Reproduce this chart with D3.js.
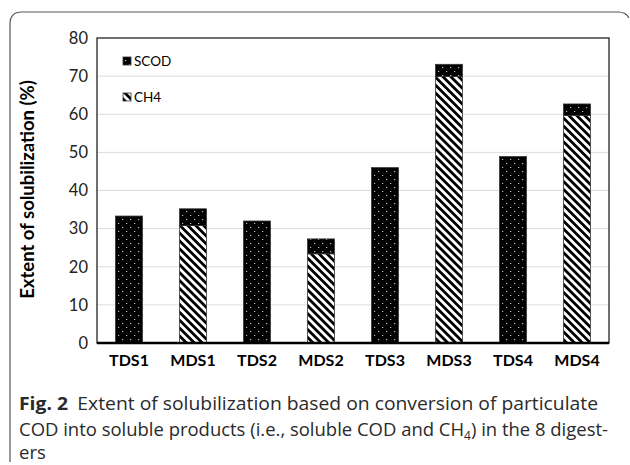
<!DOCTYPE html>
<html>
<head>
<meta charset="utf-8">
<script src="https://cdn.jsdelivr.net/npm/d3@7/dist/d3.min.js"></script>
<style>
  html, body { margin: 0; padding: 0; background: #fff; }
  svg { display: block; }
</style>
</head>
<body>
<svg id="chart" width="630" height="465"></svg>
<script>
// Digesters and their solubilization split (% of particulate COD)
const categories = ["TDS1", "MDS1", "TDS2", "MDS2", "TDS3", "MDS3", "TDS4", "MDS4"];
const ch4Values  = [0, 30.8, 0, 23.4, 0, 69.9, 0, 59.7];
const scodValues = [33.3, 4.4, 32.0, 3.9, 46.0, 3.2, 48.9, 3.0];
const yTicks = [0, 10, 20, 30, 40, 50, 60, 70, 80];
const seriesNames = ["SCOD", "CH4"];

const svg = d3.select("#chart");
const plot = { left: 97, right: 609, top: 38, bottom: 343 };

// Fill patterns: dotted black for SCOD, diagonal hatching for CH4
const defs = svg.append("defs");
const dots = defs.append("pattern")
  .attr("id", "dots").attr("patternUnits", "userSpaceOnUse")
  .attr("width", 8).attr("height", 8);
dots.append("rect").attr("width", 8).attr("height", 8).attr("fill", "#000");
dots.append("rect").attr("x", 2).attr("y", 3).attr("width", 1.2).attr("height", 1.2).attr("fill", "#bbb");
dots.append("rect").attr("x", 6).attr("y", 7).attr("width", 1.2).attr("height", 1.2).attr("fill", "#bbb");

const hatch = defs.append("pattern")
  .attr("id", "hatch").attr("patternUnits", "userSpaceOnUse")
  .attr("width", 5.6).attr("height", 5.6)
  .attr("patternTransform", "rotate(-45)");
hatch.append("rect").attr("width", 5.6).attr("height", 5.6).attr("fill", "#fff");
hatch.append("rect").attr("x", 0).attr("width", 2.8).attr("height", 5.6).attr("fill", "#000");

// Outer figure frame with rounded top corners
svg.append("path")
  .attr("d", "M10,462 L10,24 Q10,12 22,12 L618,12 Q626,12 629,18")
  .attr("fill", "none").attr("stroke", "#555").attr("stroke-width", 1.2);

const x = d3.scaleBand().domain(categories).range([plot.left, plot.right]).paddingInner(0.58).paddingOuter(0.29);
const y = d3.scaleLinear().domain([0, 80]).range([plot.bottom, plot.top]);

// Gridlines
svg.append("g").selectAll("line")
  .data(yTicks.filter(t => t > 0 && t < 80))
  .join("line")
  .attr("x1", plot.left).attr("x2", plot.right)
  .attr("y1", d => y(d)).attr("y2", d => y(d))
  .attr("stroke", "#dcdcdc").attr("stroke-width", 1);

// Plot frame
svg.append("rect")
  .attr("x", plot.left).attr("y", plot.top)
  .attr("width", plot.right - plot.left).attr("height", plot.bottom - plot.top)
  .attr("fill", "none").attr("stroke", "#222").attr("stroke-width", 1.3);

// Stacked bars: CH4 at the base, SCOD on top
const stackData = categories.map((c, i) => ({ cat: c, CH4: ch4Values[i], SCOD: scodValues[i] }));
const stacked = d3.stack().keys(["CH4", "SCOD"])(stackData);
const fills = { CH4: "url(#hatch)", SCOD: "url(#dots)" };

stacked.forEach(layer => {
  svg.append("g").selectAll("rect")
    .data(layer.filter(d => d[1] - d[0] > 0))
    .join("rect")
    .attr("x", d => x(d.data.cat))
    .attr("width", x.bandwidth())
    .attr("y", d => y(d[1]))
    .attr("height", d => y(d[0]) - y(d[1]))
    .attr("fill", fills[layer.key])
    .attr("stroke", "#333").attr("stroke-width", 0.8);
});

// Bottom axis line
svg.append("line")
  .attr("x1", plot.left).attr("x2", plot.right)
  .attr("y1", plot.bottom).attr("y2", plot.bottom)
  .attr("stroke", "#000").attr("stroke-width", 2.4);

// Y axis labels
const yAxis = svg.append("g")
  .attr("transform", `translate(${plot.left},0)`)
  .call(d3.axisLeft(y).tickValues(yTicks).tickSize(0).tickPadding(9));
yAxis.select(".domain").remove();
yAxis.selectAll("text")
  .attr("font-family", "Lato, 'Open Sans', sans-serif")
  .attr("font-size", 16.5).attr("fill", "#222");

// X axis labels
const xAxis = svg.append("g")
  .attr("transform", `translate(0,${plot.bottom})`)
  .call(d3.axisBottom(x).tickSize(0).tickPadding(12));
xAxis.select(".domain").remove();
xAxis.selectAll("text")
  .attr("font-family", "Lato, 'Open Sans', sans-serif")
  .attr("font-size", 16).attr("font-weight", "bold").attr("fill", "#000");

// Y axis title
svg.append("text")
  .attr("transform", `translate(34,${(plot.top + plot.bottom) / 2 - 1}) rotate(-90)`)
  .attr("text-anchor", "middle")
  .attr("font-family", "Lato, 'Open Sans', sans-serif")
  .attr("font-size", 18.5).attr("font-weight", "bold").attr("fill", "#000")
  .text("Extent of solubilization (%)");

// Legend
const legend = svg.append("g").selectAll("g")
  .data(seriesNames)
  .join("g")
  .attr("transform", (d, i) => `translate(123,${57 + i * 36})`);
legend.append("rect")
  .attr("width", 8).attr("height", 8)
  .attr("fill", d => fills[d]).attr("stroke", "#333").attr("stroke-width", 0.8);
legend.append("text")
  .attr("x", 11).attr("y", 4).attr("dy", "0.36em")
  .attr("font-family", "Lato, 'Open Sans', sans-serif")
  .attr("font-size", 13.5).attr("fill", "#000")
  .text(d => d);

// Figure caption
const cap = svg.append("g")
  .attr("font-family", "'Open Sans', 'Noto Sans', sans-serif")
  .attr("font-size", 18.5).attr("fill", "#2a2a2a");
const l1 = cap.append("text").attr("x", 19).attr("y", 410)
  .attr("textLength", 579).attr("lengthAdjust", "spacingAndGlyphs");
l1.append("tspan").attr("font-weight", "bold").text("Fig. 2");
l1.append("tspan").attr("dx", 9).text("Extent of solubilization based on conversion of particulate");
const l2 = cap.append("text").attr("x", 19).attr("y", 436)
  .attr("textLength", 589).attr("lengthAdjust", "spacingAndGlyphs");
l2.append("tspan").text("COD into soluble products (i.e., soluble COD and CH");
l2.append("tspan").attr("font-size", 12).attr("dy", 4).text("4");
l2.append("tspan").attr("dy", -4).text(") in the 8 digest-");
cap.append("text").attr("x", 19).attr("y", 459).text("ers");
</script>
</body>
</html>
